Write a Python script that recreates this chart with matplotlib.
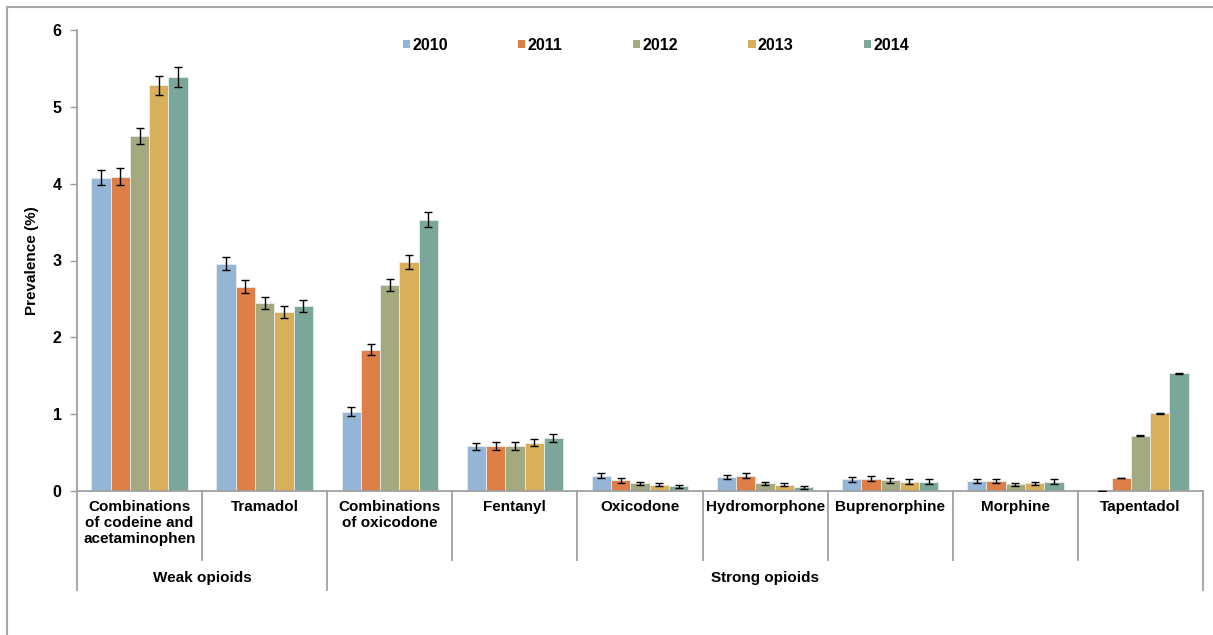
import matplotlib.pyplot as plt
import numpy as np
from matplotlib.lines import Line2D

plt.rcParams['font.family'] = ['Liberation Sans', 'DejaVu Sans']
plt.rcParams['font.weight'] = 'bold'

years = ['2010', '2011', '2012', '2013', '2014']
drugs = ['Combinations\nof codeine and\nacetaminophen', 'Tramadol',
         'Combinations\nof oxicodone', 'Fentanyl', 'Oxicodone',
         'Hydromorphone', 'Buprenorphine', 'Morphine', 'Tapentadol']
groups = ['Weak opioids', 'Strong opioids']
group_sizes = [2, 7]

# prevalence (%) per drug, one list per year
prev_2010 = [4.08, 2.96, 1.03, 0.58, 0.20, 0.18, 0.15, 0.13, 0.00]
prev_2011 = [4.09, 2.66, 1.84, 0.59, 0.14, 0.20, 0.16, 0.13, 0.17]
prev_2012 = [4.62, 2.45, 2.68, 0.59, 0.10, 0.10, 0.14, 0.09, 0.72]
prev_2013 = [5.28, 2.33, 2.98, 0.63, 0.08, 0.08, 0.12, 0.10, 1.01]
prev_2014 = [5.39, 2.41, 3.53, 0.69, 0.06, 0.05, 0.12, 0.12, 1.53]

err_2010 = [0.10, 0.08, 0.06, 0.05, 0.03, 0.03, 0.03, 0.03, 0.00]
err_2011 = [0.11, 0.08, 0.07, 0.05, 0.03, 0.03, 0.03, 0.03, 0.005]
err_2012 = [0.11, 0.08, 0.08, 0.05, 0.02, 0.02, 0.03, 0.02, 0.005]
err_2013 = [0.12, 0.08, 0.09, 0.05, 0.02, 0.02, 0.03, 0.02, 0.005]
err_2014 = [0.13, 0.08, 0.10, 0.05, 0.02, 0.02, 0.03, 0.03, 0.005]

values = [prev_2010, prev_2011, prev_2012, prev_2013, prev_2014]
errors = [err_2010, err_2011, err_2012, err_2013, err_2014]
colors = ['#94B5D5', '#DE7F48', '#A4A97F', '#D8B05C', '#7BA79A']

fig = plt.figure(figsize=(12.13, 6.35), dpi=100)
W, H = 1213, 635
x0, x1, y0, y1 = 77, 1203, 491, 30
ax = fig.add_axes([x0 / W, 1 - y0 / H, (x1 - x0) / W, (y0 - y1) / H])

x = np.arange(len(drugs))
bw = 0.154
for i, (yr, vals, errs) in enumerate(zip(years, values, errors)):
    pos = x + (i - 2) * bw
    ax.bar(pos, vals, bw, color=colors[i], edgecolor='#e8eef0', linewidth=0.6,
           label=yr, zorder=2)
    ax.errorbar(pos, vals, yerr=errs, fmt='none', ecolor='black',
                elinewidth=1, capsize=3.2, capthick=1, zorder=3)

ax.set_xlim(-0.5, len(drugs) - 0.5)
ax.set_ylim(0, 6)
ax.set_yticks(range(7))
ax.tick_params(axis='y', length=5, width=1, color='#9a9a9a', pad=6,
               labelsize=11.5)
ax.tick_params(axis='x', length=0, labelbottom=False)
for s in ['top', 'right']:
    ax.spines[s].set_visible(False)
for s in ['left', 'bottom']:
    ax.spines[s].set_color('#a0a0a0')
    ax.spines[s].set_linewidth(1.3)
ax.set_ylabel('Prevalence (%)', fontsize=11, fontweight='bold', labelpad=10)

# category labels and separators below the axis
trans = ax.get_xaxis_transform()
ph = y0 - y1
inner = -(560 - y0) / ph
outer = -(590 - y0) / ph
for k, name in enumerate(drugs):
    ax.text(k, -(500 - y0) / ph, name, transform=trans, ha='center',
            va='top', fontsize=11, fontweight='bold', linespacing=1.2)

bounds = np.cumsum([0] + group_sizes) - 0.5
for k in range(len(drugs) + 1):
    b = k - 0.5
    bottom = outer if b in bounds else inner
    ax.add_line(Line2D([b, b], [0, bottom], transform=trans, color='#a0a0a0',
                       linewidth=1.3, clip_on=False))
for g, (lo, hi) in enumerate(zip(bounds[:-1], bounds[1:])):
    ax.text((lo + hi) / 2, -(578 - y0) / ph, groups[g], transform=trans,
            ha='center', va='center', fontsize=11, fontweight='bold')

leg = ax.legend(loc='center', bbox_to_anchor=(656 / W, 1 - 45 / H),
                bbox_transform=fig.transFigure, ncol=5, frameon=False,
                fontsize=11.5, handlelength=0.45, handleheight=0.45,
                handletextpad=0.15, columnspacing=4.4)
for h in leg.legend_handles:
    h.set_edgecolor('none')

# outer frame lines
fig.add_artist(Line2D([7 / W, 7 / W], [0, 1 - 7 / H], color='#a8a8a8',
                      linewidth=1.5))
fig.add_artist(Line2D([7 / W, 1212 / W], [1 - 7 / H, 1 - 7 / H],
                      color='#a8a8a8', linewidth=1.5))

fig.savefig('out.png', dpi=100)
